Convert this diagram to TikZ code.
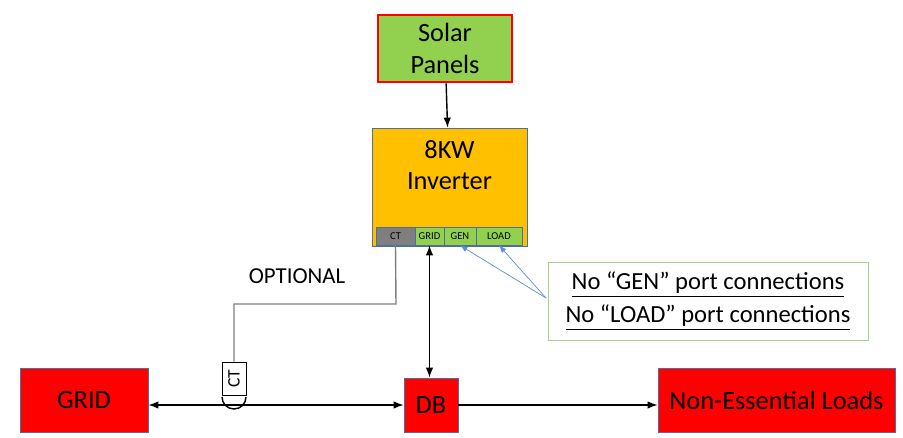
\documentclass[tikz,border=0pt]{standalone}
\usepackage{fontspec}
\setmainfont{Carlito}
\usetikzlibrary{arrows.meta}
\definecolor{solargreen}{HTML}{92D050}
\definecolor{invorange}{HTML}{FFC000}
\definecolor{boxred}{HTML}{FF0000}
\definecolor{portgray}{HTML}{7F7F7F}
\definecolor{edgeblue}{HTML}{4F6E99}
\definecolor{noteblue}{HTML}{5B8ED6}
\definecolor{notegreen}{HTML}{A9D18E}
\tikzset{
  blk/.style={draw=edgeblue, fill=boxred, inner sep=0pt, font=\fontsize{15}{17}\selectfont},
  port/.style={draw=edgeblue, fill=solargreen, inner sep=0pt, minimum height=18*0.02cm, font=\fontsize{6}{7}\selectfont},
  link/.style={thick, {Latex[length=2mm]}-{Latex[length=2mm]}},
}
\begin{document}
\begin{tikzpicture}[x=0.02cm, y=-0.02cm]
  \useasboundingbox (0,0) rectangle (903,437);
  % top
  \node[draw=boxred, line width=1.5pt, fill=solargreen, minimum width=134*0.02cm, minimum height=67*0.02cm, align=center, font=\fontsize{15}{18}\selectfont] (solar) at (445,48.5) {Solar\\Panels};
  \node[draw=edgeblue, fill=invorange, minimum width=155*0.02cm, minimum height=118*0.02cm] (inv) at (449.5,187) {};
  \node[align=center, font=\fontsize{15}{18}\selectfont] (invlbl) at (449.5,165) {8KW\\Inverter};
  \draw[thick, -{Latex[length=2mm]}] (solar) -- (inv);
  % ports
  \node[port, fill=portgray, minimum width=39*0.02cm] (ct) at (395.5,236) {CT};
  \node[port, minimum width=29*0.02cm] (pgrid) at (429.5,236) {GRID};
  \node[port, minimum width=32*0.02cm] (pgen) at (460,236) {GEN};
  \node[port, minimum width=46*0.02cm] (pload) at (499,236) {LOAD};
  % bottom row
  \node[blk, minimum width=128*0.02cm, minimum height=64*0.02cm] (grid) at (84,400) {GRID};
  \node[blk, minimum width=54*0.02cm, minimum height=54*0.02cm] (db) at (431,405) {DB};
  \node[blk, minimum width=237*0.02cm, minimum height=64*0.02cm] (loads) at (776.5,400) {Non-Essential Loads};
  \draw[link] (pgrid.south) -- (db.north -| pgrid.south);
  \draw[link] (grid.east |- db.west) -- (db.west);
  \draw[thick, -{Latex[length=2mm]}] (db.east) -- (loads.west |- db.east);
  % optional CT clamp
  \node[draw, fill=white, minimum width=33*0.02cm, minimum height=24*0.02cm, inner sep=0pt, rotate=90, font=\fontsize{10}{12}\selectfont] (clamp) at (234,378.5) {CT};
  \draw[thick] (222,397) arc[start angle=180, end angle=0, radius=12];
  \draw[portgray, thick] (ct.south) -- (396,304) -- (234,304) -- (clamp.east);
  \node[font=\fontsize{13}{15}\selectfont] (opt) at (297,276) {OPTIONAL};
  % note
  \node[draw=notegreen, minimum width=320*0.02cm, minimum height=78*0.02cm, align=center, font=\fontsize{14}{19}\selectfont] (note) at (708,301) {\underline{No “GEN” port connections}\\\underline{No “LOAD” port connections}};
  \coordinate (tip) at (546,298);
  \draw[noteblue, -{Latex[length=1.5mm]}] (tip) -- (pgen.south);
  \draw[noteblue, -{Latex[length=1.5mm]}] (tip) -- (pload.south);
\end{tikzpicture}
\end{document}
